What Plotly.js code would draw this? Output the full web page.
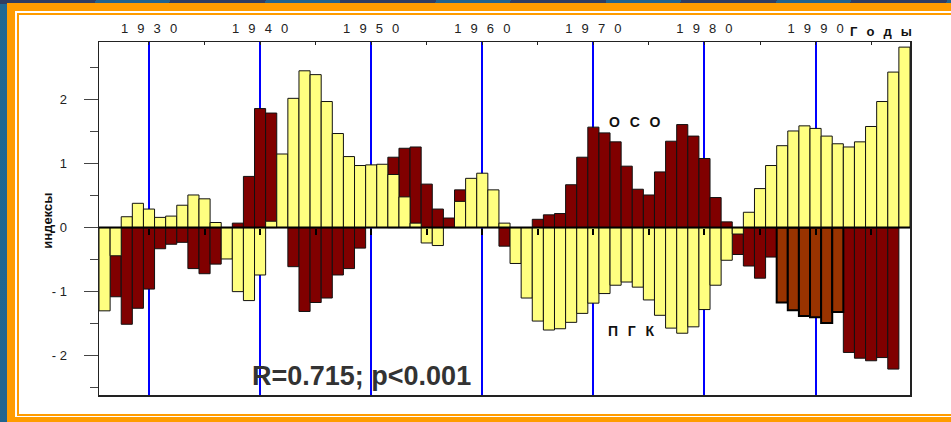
<!DOCTYPE html>
<html>
<head>
<meta charset="utf-8">
<script src="https://cdn.plot.ly/plotly-3.0.1.min.js"></script>
<style>
  html, body { margin:0; padding:0; }
  #wrap { position:relative; width:951px; height:422px; overflow:hidden;
    background: linear-gradient(100deg, #1f6893 0%, #25557f 45%, #34416a 100%); }
  #stripes { position:absolute; left:0; top:0; width:951px; height:4px;
    background: repeating-linear-gradient(110deg, #2f3d62 0px, #2f3d62 90px, #1f6390 90px, #1f6390 160px); }
  #orange { position:absolute; left:7px; top:3px; width:944px; height:419px; background:#ff9c00; }
  #white1 { position:absolute; left:15px; top:11px; width:936px; height:406px; background:#ffffff; }
  #thin { position:absolute; left:17px; top:13px; width:934px; height:399px; background:#ffffff;
    border-left:2px solid #ff9c00; border-top:2px solid #ff9c00; border-bottom:2px solid #ff9c00; }
  #chart { position:absolute; left:0; top:0; width:951px; height:422px; }
</style>
</head>
<body>
<div id="wrap">
  <div id="stripes"></div>
  <div id="orange"></div>
  <div id="white1"></div>
  <div id="thin"></div>
  <div id="chart"></div>
</div>
<script>
// Years (one bar per year)
const years = [];
for (let y = 1926; y <= 1998; y++) years.push(y);

// ПГК index (yellow bars), 1926..1998
const pgk = [
  -1.30, -0.44, 0.17, 0.38, 0.29, 0.16, 0.18, 0.35, 0.51, 0.45,   // 1926-1935
   0.08, -0.49, -1.00, -1.14, -0.74, 0.10, 1.15, 2.02, 2.45, 2.39, // 1936-1945
   1.97, 1.47, 1.11, 0.97, 0.98, 0.99, 0.83, 0.48, 0.07, -0.24,    // 1946-1955
  -0.28, null, 0.41, 0.77, 0.85, 0.59, 0.07, -0.56, -1.10, -1.46,  // 1956-1965
  -1.60, -1.58, -1.48, -1.34, -1.18, -1.03, -0.90, -0.85, -0.93, -1.13, // 1966-1975
  -1.37, -1.57, -1.65, -1.55, -1.28, -0.90, -0.51, -0.10, 0.24, 0.61,   // 1976-1985
   0.97, 1.28, 1.51, 1.59, 1.55, 1.43, 1.31, 1.26, 1.34, 1.58,     // 1986-1995
   1.97, 2.43, 2.82                                                 // 1996-1998
];

// ОСО index (dark red bars), 1926..1998
const oso = [
  null, -1.08, -1.51, -1.26, -0.96, -0.33, -0.26, -0.23, -0.64, -0.72, // 1926-1935
  -0.57, null, 0.07, 0.80, 1.86, 1.79, null, -0.61, -1.31, -1.17,      // 1936-1945
  -1.10, -0.74, -0.64, -0.32, null, null, 1.10, 1.24, 1.26, 0.68,      // 1946-1955
   0.29, 0.15, 0.59, null, null, null, -0.29, null, null, 0.13,        // 1956-1965
   0.20, 0.22, 0.67, 1.10, 1.57, 1.48, 1.34, 0.96, 0.60, 0.51,         // 1966-1975
   0.87, 1.35, 1.61, 1.43, 1.08, 0.47, 0.09, -0.42, -0.60, -0.79,      // 1976-1985
  -0.46, null, null, null, null, null, null, -1.95, -2.04, -2.08,      // 1986-1995
  -2.03, -2.21, null                                                   // 1996-1998
];

// ОСО, highlighted years (brown bars)
const osoHighlightYears = [1987, 1988, 1989, 1990, 1991, 1992];
const osoHighlight = [-1.17, -1.29, -1.38, -1.40, -1.49, -1.32];

// Tick labels
const xTickVals = [1930, 1940, 1950, 1960, 1970, 1980, 1990];
const sp = '\u2002\u2009';
const xTickText = xTickVals.map(v => String(v).split('').join(sp));
const zeroTickVals = [1930, 1935, 1940, 1945, 1950, 1955, 1960, 1965, 1970, 1975, 1980, 1985, 1990, 1995];
const yTickVals = [-2, -1, 0, 1, 2];
const yTickText = ['- 2', '- 1', '0', '1', '2'];

const yRange = [-2.615, 2.9];
const xRange = [1925.5, 1998.5];

const FONT = "'Liberation Sans', Arial, sans-serif";

const traces = [
  { type:'bar', x: years, y: oso, width: 1, marker:{color:'#800000', line:{color:'#111', width:1}},
    showlegend:false, hoverinfo:'x+y' },
  { type:'bar', x: osoHighlightYears, y: osoHighlight, width: 1, marker:{color:'#993300', line:{color:'#000', width:2}},
    showlegend:false, hoverinfo:'x+y' },
  { type:'bar', x: years, y: pgk, width: 1, marker:{color:'#ffff80', line:{color:'#111', width:1}},
    showlegend:false, hoverinfo:'x+y' },
  { type:'scatter', x: [], y: [], xaxis:'x2', showlegend:false, hoverinfo:'skip' }
];

const layout = {
  width: 951, height: 422,
  margin: {l:99, r:41, t:42, b:27, pad:0},
  paper_bgcolor: 'rgba(0,0,0,0)',
  plot_bgcolor: '#ffffff',
  barmode: 'overlay',
  bargap: 0,
  font: {family: FONT, color:'#222'},
  xaxis: {
    range: xRange, side:'top',
    tickmode:'array', tickvals: xTickVals, ticktext: xTickText,
    tickfont:{size:13, color:'#222', family: FONT},
    ticks:'inside', ticklen:3, tickcolor:'#222', tickwidth:1,
    minor:{tick0:1925, dtick:5, ticks:'inside', ticklen:3, tickcolor:'#222', showgrid:false},
    showgrid:true, gridcolor:'#0000ff', gridwidth:2,
    showline:true, linecolor:'#222', linewidth:1.5, mirror:true,
    zeroline:false, fixedrange:true, ticklabelstandoff: 2
  },
  xaxis2: {
    overlaying:'x', anchor:'free', position: (0 - yRange[0]) / (yRange[1] - yRange[0]),
    range: xRange, side:'bottom',
    tickmode:'array', tickvals: zeroTickVals,
    ticks:'outside', ticklen:6, tickwidth:2, tickcolor:'#000',
    showticklabels:false, showgrid:false, showline:false, zeroline:false, fixedrange:true
  },
  yaxis: {
    range: yRange,
    tickmode:'array', tickvals: yTickVals, ticktext: yTickText,
    tickfont:{size:13, color:'#222', family: FONT},
    ticks:'outside', ticklen:14, tickcolor:'#444', tickwidth:1.5,
    minor:{dtick:0.5, ticks:'outside', ticklen:8, tickcolor:'#444', tickwidth:1.5, showgrid:false},
    ticklabelstandoff: 14,
    showgrid:false, zeroline:false,
    showline:true, linecolor:'#222', linewidth:1.5, mirror:true, fixedrange:true
  },
  shapes: [
    {type:'line', xref:'paper', x0:0, x1:1, yref:'y', y0:0, y1:0, line:{color:'#000', width:2}, layer:'above'}
  ],
  annotations: [
    {xref:'x', yref:'y', x:1949.17, y:-2.32, xanchor:'center', yanchor:'middle',
     text:'<b>R=0.715; p&lt;0.001</b>', showarrow:false,
     font:{size:27, color:'#333', family: FONT}},
    {xref:'x', yref:'y', x:1973.74, y:1.65, xanchor:'center', yanchor:'middle',
     text:'<b>О' + sp + 'С' + sp + 'О</b>', showarrow:false,
     font:{size:14, color:'#111', family: FONT}},
    {xref:'x', yref:'y', x:1973.4, y:-1.61, xanchor:'center', yanchor:'middle',
     text:'<b>П' + sp + 'Г' + sp + 'К</b>', showarrow:false,
     font:{size:14, color:'#111', family: FONT}},
    {xref:'paper', yref:'paper', x:(881-99)/811, y:1 + (42-31)/353, xanchor:'center', yanchor:'middle',
     text:'<b>Г' + sp + 'о' + sp + 'д' + sp + 'ы</b>', showarrow:false,
     font:{size:13, color:'#111', family: FONT}},
    {xref:'paper', yref:'y', x:(47.5-99)/811, y:0.1, xanchor:'center', yanchor:'middle',
     text:'<b>индексы</b>', textangle:-90, showarrow:false,
     font:{size:13, color:'#111', family: FONT}}
  ]
};

Plotly.newPlot('chart', traces, layout, {displayModeBar:false, staticPlot:true});
</script>
</body>
</html>
